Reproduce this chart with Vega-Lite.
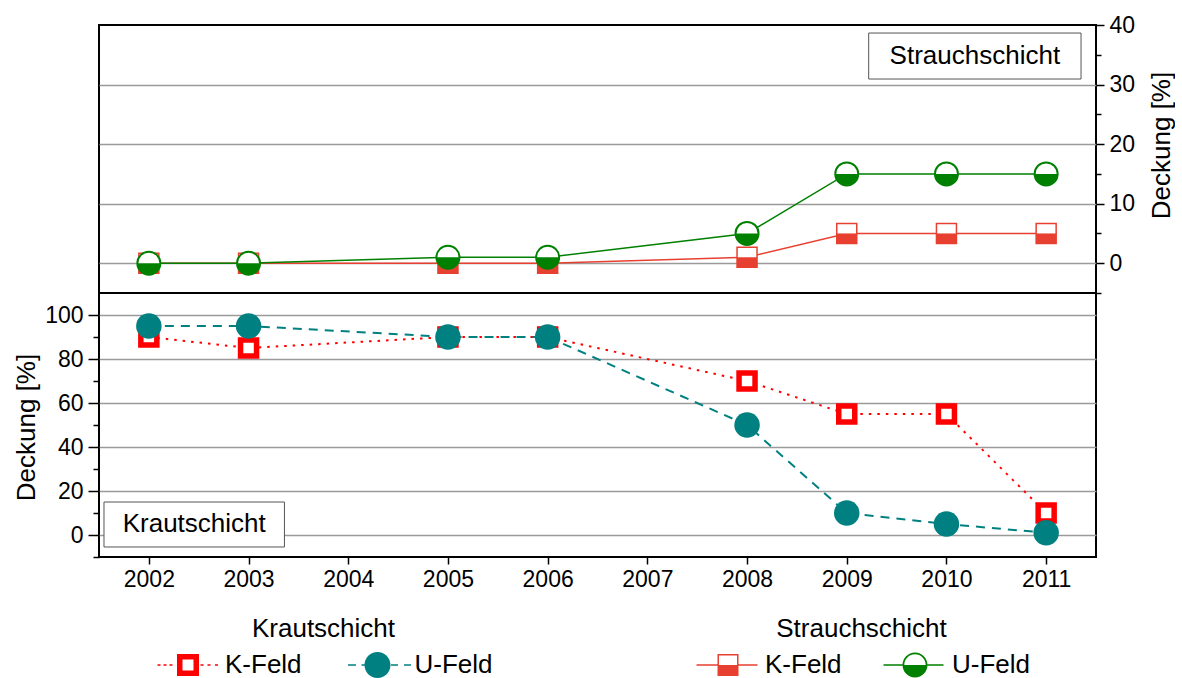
{
  "$schema": "https://vega.github.io/schema/vega-lite/v6.json",
  "background": "white",
  "padding": {"left": 12, "top": 13, "right": 0, "bottom": 0},
  "spacing": 0,
  "bounds": "flush",
  "config": {
    "font": "Liberation Sans",
    "view": {"stroke": "black", "strokeWidth": 2},
    "axis": {
      "labelFont": "Liberation Sans", "titleFont": "Liberation Sans",
      "labelColor": "black", "titleColor": "black", "tickColor": "black",
      "labelFontSize": 23, "titleFontSize": 26, "titleFontWeight": "normal",
      "domain": false, "tickWidth": 1.5, "gridColor": "#9a9a9a", "gridWidth": 1.5, "gridOpacity": 1
    },
    "legend": {
      "labelFont": "Liberation Sans", "titleFont": "Liberation Sans",
      "labelFontSize": 26, "titleFontSize": 26, "titleFontWeight": "normal",
      "labelColor": "black", "titleColor": "black", "padding": 0
    }
  },
  "resolve": {"scale": {"color": "independent", "strokeDash": "independent"}, "legend": {"color": "independent"}},
  "datasets": {
    "strauch": [
      {"year": 2002, "series": "K-Feld", "value": 0},
      {"year": 2003, "series": "K-Feld", "value": 0},
      {"year": 2005, "series": "K-Feld", "value": 0},
      {"year": 2006, "series": "K-Feld", "value": 0},
      {"year": 2008, "series": "K-Feld", "value": 1},
      {"year": 2009, "series": "K-Feld", "value": 5},
      {"year": 2010, "series": "K-Feld", "value": 5},
      {"year": 2011, "series": "K-Feld", "value": 5},
      {"year": 2002, "series": "U-Feld", "value": 0},
      {"year": 2003, "series": "U-Feld", "value": 0},
      {"year": 2005, "series": "U-Feld", "value": 1},
      {"year": 2006, "series": "U-Feld", "value": 1},
      {"year": 2008, "series": "U-Feld", "value": 5},
      {"year": 2009, "series": "U-Feld", "value": 15},
      {"year": 2010, "series": "U-Feld", "value": 15},
      {"year": 2011, "series": "U-Feld", "value": 15}
    ],
    "kraut": [
      {"year": 2002, "series": "K-Feld", "value": 90},
      {"year": 2003, "series": "K-Feld", "value": 85},
      {"year": 2005, "series": "K-Feld", "value": 90},
      {"year": 2006, "series": "K-Feld", "value": 90},
      {"year": 2008, "series": "K-Feld", "value": 70},
      {"year": 2009, "series": "K-Feld", "value": 55},
      {"year": 2010, "series": "K-Feld", "value": 55},
      {"year": 2011, "series": "K-Feld", "value": 10},
      {"year": 2002, "series": "U-Feld", "value": 95},
      {"year": 2003, "series": "U-Feld", "value": 95},
      {"year": 2005, "series": "U-Feld", "value": 90},
      {"year": 2006, "series": "U-Feld", "value": 90},
      {"year": 2008, "series": "U-Feld", "value": 50},
      {"year": 2009, "series": "U-Feld", "value": 10},
      {"year": 2010, "series": "U-Feld", "value": 5},
      {"year": 2011, "series": "U-Feld", "value": 1}
    ]
  },
  "vconcat": [
    {
      "width": 997,
      "height": 268,
      "resolve": {"axis": {"x": "independent", "y": "independent"}},
      "layer": [
        {
          "data": {"name": "strauch"},
          "mark": {"type": "line", "strokeWidth": 1.5},
          "encoding": {
            "x": {"field": "year", "type": "quantitative", "scale": {"domain": [2001.5, 2011.5], "nice": false, "zero": false}, "axis": null},
            "y": {"field": "value", "type": "quantitative", "scale": {"domain": [-5, 40], "nice": false, "zero": false},
              "axis": {"orient": "right", "values": [0, 10, 20, 30, 40], "tickSize": 8, "labelPadding": 5, "grid": false,
                "title": "Deckung [%]", "titleAngle": 270, "titleX": 65, "titleY": 120, "titleAlign": "center", "titleBaseline": "middle"}},
            "color": {"field": "series", "type": "nominal",
              "scale": {"domain": ["K-Feld", "U-Feld"], "range": ["#e84030", "#008000"]},
              "legend": {
                "title": "Strauchschicht", "orient": "none", "legendX": 594.5, "legendY": 591,
                "direction": "horizontal", "columns": 2, "symbolSize": 400, "symbolOffset": 21.5, "labelOffset": 24,
                "columnPadding": 38, "titleAnchor": "middle", "titlePadding": 10, "labelBaseline": "middle",
                "encode": {"symbols": {"update": {
                  "shape": {"signal": "datum.value === 'K-Feld' ? 'M -3.15 -0.08 H -1.05 V 0.08 H -3.15 Z M 1.05 -0.08 H 2.95 V 0.08 H 1.05 Z M -1.05 -1.1 H 1.05 V 1.1 H -1.05 Z M -0.9 -0.95 V 0.95 H 0.9 V -0.95 Z M -0.9 0 H 0.9 V 0.95 H -0.9 Z' : 'M -3.15 -0.08 H -1.25 V 0.08 H -3.15 Z M 1.25 -0.08 H 2.85 V 0.08 H 1.25 Z M -1.25 0 A 1.25 1.25 0 1 1 1.25 0 A 1.25 1.25 0 1 1 -1.25 0 Z M -1.07 0 A 1.07 1.07 0 1 0 1.07 0 A 1.07 1.07 0 1 0 -1.07 0 Z M -1.07 0 A 1.07 1.07 0 0 0 1.07 0 Z'"},
                  "fill": {"signal": "datum.value === 'K-Feld' ? '#e84030' : '#008000'"},
                  "strokeWidth": {"value": 0},
                  "opacity": {"value": 1},
                  "fillOpacity": {"value": 1}
                }}}
              }}
          }
        },
        {
          "data": {"name": "strauch"},
          "transform": [{"filter": "datum.series === 'K-Feld'"}],
          "mark": {"type": "point", "shape": "square", "size": 400, "filled": true, "fill": "white", "stroke": "#e84030", "strokeWidth": 1.5, "opacity": 1},
          "encoding": {
            "x": {"field": "year", "type": "quantitative", "scale": {"domain": [2001.5, 2011.5], "nice": false, "zero": false}, "axis": null},
            "y": {"field": "value", "type": "quantitative", "scale": {"domain": [-5, 40], "nice": false, "zero": false},
              "axis": {"orient": "right", "values": [0, 10, 20, 30], "grid": true, "ticks": false, "labels": false, "title": null}}
          }
        },
        {
          "data": {"name": "strauch"},
          "transform": [{"filter": "datum.series === 'K-Feld'"}],
          "mark": {"type": "point", "shape": "M -1 0 L 1 0 L 1 1 L -1 1 Z", "size": 400, "filled": true, "fill": "#e84030", "strokeWidth": 0, "opacity": 1},
          "encoding": {
            "x": {"field": "year", "type": "quantitative", "scale": {"domain": [2001.5, 2011.5], "nice": false, "zero": false}, "axis": null},
            "y": {"field": "value", "type": "quantitative", "scale": {"domain": [-5, 40], "nice": false, "zero": false},
              "axis": {"orient": "right", "values": [-5, 5, 15, 25, 35], "tickSize": 5, "labels": false, "grid": false, "title": null}}
          }
        },
        {
          "data": {"name": "strauch"},
          "transform": [{"filter": "datum.series === 'U-Feld'"}],
          "mark": {"type": "point", "shape": "circle", "size": 529, "filled": true, "fill": "white", "stroke": "#008000", "strokeWidth": 2, "opacity": 1},
          "encoding": {
            "x": {"field": "year", "type": "quantitative", "scale": {"domain": [2001.5, 2011.5], "nice": false, "zero": false}, "axis": null},
            "y": {"field": "value", "type": "quantitative", "scale": {"domain": [-5, 40], "nice": false, "zero": false}, "axis": null}
          }
        },
        {
          "data": {"name": "strauch"},
          "transform": [{"filter": "datum.series === 'U-Feld'"}],
          "mark": {"type": "point", "shape": "M -1 0 A 1 1 0 0 0 1 0 Z", "size": 529, "filled": true, "fill": "#008000", "strokeWidth": 0, "opacity": 1},
          "encoding": {
            "x": {"field": "year", "type": "quantitative", "scale": {"domain": [2001.5, 2011.5], "nice": false, "zero": false}, "axis": null},
            "y": {"field": "value", "type": "quantitative", "scale": {"domain": [-5, 40], "nice": false, "zero": false}, "axis": null}
          }
        },
        {
          "data": {"values": [{}]},
          "mark": {"type": "rect", "fill": "white", "stroke": "#555555", "strokeWidth": 1},
          "encoding": {
            "x": {"datum": 2009.22, "type": "quantitative", "axis": null},
            "x2": {"datum": 2011.35},
            "y": {"datum": 38.65, "type": "quantitative", "axis": null},
            "y2": {"datum": 30.93}
          }
        },
        {
          "data": {"values": [{}]},
          "mark": {"type": "text", "fontSize": 26, "font": "Liberation Sans", "color": "black", "align": "center", "baseline": "middle"},
          "encoding": {
            "x": {"datum": 2010.285, "type": "quantitative", "axis": null},
            "y": {"datum": 34.8, "type": "quantitative", "axis": null},
            "text": {"value": "Strauchschicht"}
          }
        }
      ]
    },
    {
      "width": 997,
      "height": 264,
      "resolve": {"axis": {"x": "independent", "y": "independent"}},
      "layer": [
        {
          "data": {"name": "kraut"},
          "mark": {"type": "line", "strokeWidth": 2},
          "encoding": {
            "x": {"field": "year", "type": "quantitative", "scale": {"domain": [2001.5, 2011.5], "nice": false, "zero": false},
              "axis": {"orient": "bottom", "values": [2002, 2003, 2004, 2005, 2006, 2007, 2008, 2009, 2010, 2011], "format": "d", "tickSize": 7, "labelPadding": 4, "grid": false, "title": null}},
            "y": {"field": "value", "type": "quantitative", "scale": {"domain": [-10, 110], "nice": false, "zero": false},
              "axis": {"orient": "left", "values": [0, 20, 40, 60, 80, 100], "tickSize": 11, "labelPadding": 5, "grid": false,
                "title": "Deckung [%]", "titleAngle": 270, "titleX": -73, "titleY": 134, "titleAlign": "center", "titleBaseline": "middle"}},
            "strokeDash": {"field": "series", "type": "nominal", "scale": {"domain": ["K-Feld", "U-Feld"], "range": [[2.5, 6], [9, 7]]}, "legend": null},
            "color": {"field": "series", "type": "nominal",
              "scale": {"domain": ["K-Feld", "U-Feld"], "range": ["#ff0000", "#008080"]},
              "legend": {
                "title": "Krautschicht", "orient": "none", "legendX": 54.5, "legendY": 323,
                "direction": "horizontal", "columns": 2, "symbolSize": 400, "symbolOffset": 21.5, "labelOffset": 24,
                "columnPadding": 40.5, "titleAnchor": "middle", "titlePadding": 10, "labelBaseline": "middle",
                "encode": {"symbols": {"update": {
                  "shape": {"signal": "datum.value === 'K-Feld' ? 'M -3.05 -0.08 H -2.75 V 0.08 H -3.05 Z M -2.45 -0.08 H -2.15 V 0.08 H -2.45 Z M -1.85 -0.08 H -1.55 V 0.08 H -1.85 Z M 1.25 -0.08 H 1.55 V 0.08 H 1.25 Z M 1.95 -0.08 H 2.25 V 0.08 H 1.95 Z M 2.7 -0.08 H 3.0 V 0.08 H 2.7 Z M -1.1 -1.1 H 1.1 V 1.1 H -1.1 Z M -0.55 -0.55 V 0.55 H 0.55 V -0.55 Z' : 'M -2.95 -0.08 H -2.15 V 0.08 H -2.95 Z M -1.6 -0.08 H -1.2 V 0.08 H -1.6 Z M 1.35 -0.08 H 2.05 V 0.08 H 1.35 Z M 2.65 -0.08 H 3.35 V 0.08 H 2.65 Z M -1.3 0 A 1.3 1.3 0 1 1 1.3 0 A 1.3 1.3 0 1 1 -1.3 0 Z'"},
                  "fill": {"signal": "datum.value === 'K-Feld' ? '#ff0000' : '#008080'"},
                  "strokeWidth": {"value": 0},
                  "opacity": {"value": 1},
                  "fillOpacity": {"value": 1}
                }}}
              }}
          }
        },
        {
          "data": {"name": "kraut"},
          "transform": [{"filter": "datum.series === 'K-Feld'"}],
          "mark": {"type": "point", "shape": "square", "size": 256, "filled": true, "fill": "white", "stroke": "#ff0000", "strokeWidth": 5.5, "opacity": 1},
          "encoding": {
            "x": {"field": "year", "type": "quantitative", "scale": {"domain": [2001.5, 2011.5], "nice": false, "zero": false}, "axis": null},
            "y": {"field": "value", "type": "quantitative", "scale": {"domain": [-10, 110], "nice": false, "zero": false},
              "axis": {"orient": "left", "values": [0, 20, 40, 60, 80, 100], "grid": true, "ticks": false, "labels": false, "title": null}}
          }
        },
        {
          "data": {"name": "kraut"},
          "transform": [{"filter": "datum.series === 'U-Feld'"}],
          "mark": {"type": "point", "shape": "circle", "size": 650, "filled": true, "fill": "#008080", "strokeWidth": 0, "opacity": 1},
          "encoding": {
            "x": {"field": "year", "type": "quantitative", "scale": {"domain": [2001.5, 2011.5], "nice": false, "zero": false}, "axis": null},
            "y": {"field": "value", "type": "quantitative", "scale": {"domain": [-10, 110], "nice": false, "zero": false},
              "axis": {"orient": "left", "values": [-10, 10, 30, 50, 70, 90], "tickSize": 6, "labels": false, "grid": false, "title": null}}
          }
        },
        {
          "data": {"values": [{}]},
          "mark": {"type": "rect", "fill": "white", "stroke": "#555555", "strokeWidth": 1},
          "encoding": {
            "x": {"datum": 2001.55, "type": "quantitative", "axis": null},
            "x2": {"datum": 2003.36},
            "y": {"datum": 15, "type": "quantitative", "axis": null},
            "y2": {"datum": -5.45}
          }
        },
        {
          "data": {"values": [{}]},
          "mark": {"type": "text", "fontSize": 26, "font": "Liberation Sans", "color": "black", "align": "center", "baseline": "middle"},
          "encoding": {
            "x": {"datum": 2002.455, "type": "quantitative", "axis": null},
            "y": {"datum": 4.8, "type": "quantitative", "axis": null},
            "text": {"value": "Krautschicht"}
          }
        }
      ]
    }
  ]
}
